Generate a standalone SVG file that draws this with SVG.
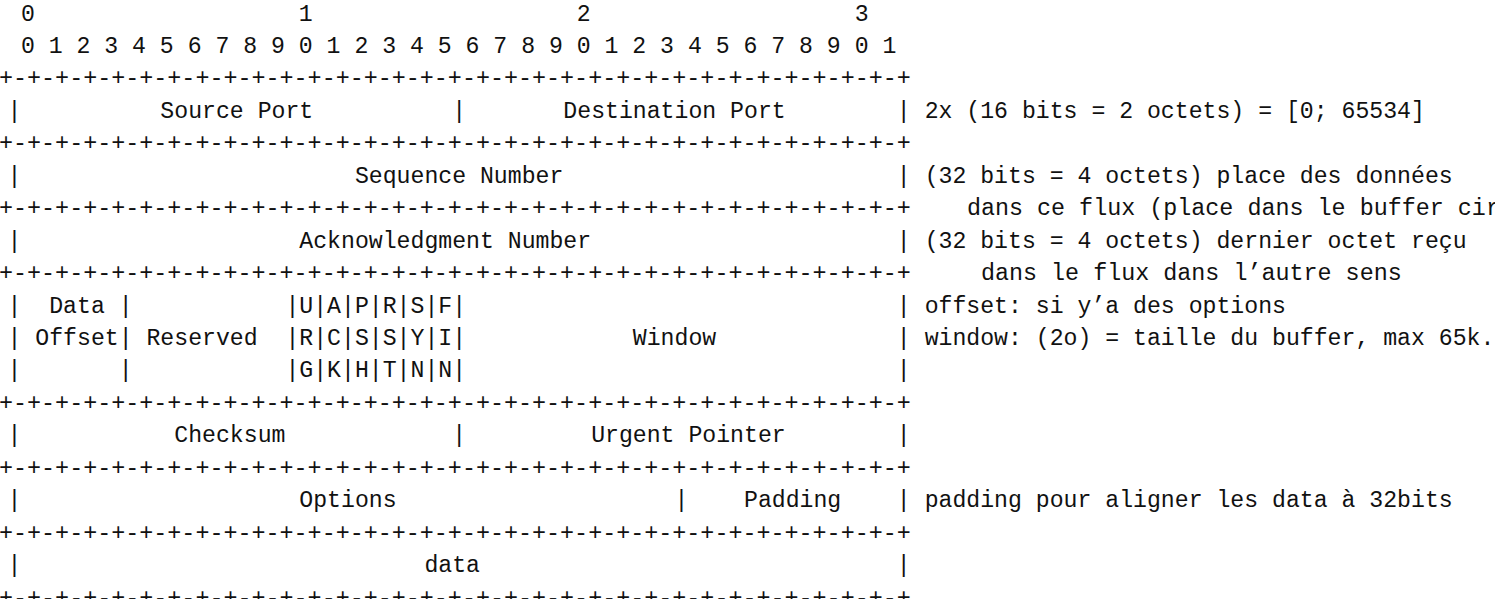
<svg xmlns="http://www.w3.org/2000/svg" width="1495" height="599" viewBox="0 0 1495 599" xml:space="preserve">
<style>
text { font-family: "Liberation Mono", "DejaVu Sans Mono", monospace; fill: #111; white-space: pre; }
.g { font-size: 23.17px; }
.p { font-size: 23.38px; }
</style>
<rect x="0" y="0" width="1495" height="599" fill="#ffffff"/>
<g id="bit-ruler">
<text class="g" x="7" y="20.5"> 0                   1                   2                   3</text>
<text class="g" x="7" y="52.95"> 0 1 2 3 4 5 6 7 8 9 0 1 2 3 4 5 6 7 8 9 0 1 2 3 4 5 6 7 8 9 0 1</text>
</g>
<g id="separators">
<text class="p" x="-1" y="85.4">+-+-+-+-+-+-+-+-+-+-+-+-+-+-+-+-+-+-+-+-+-+-+-+-+-+-+-+-+-+-+-+-+</text>
<text class="p" x="-1" y="150.3">+-+-+-+-+-+-+-+-+-+-+-+-+-+-+-+-+-+-+-+-+-+-+-+-+-+-+-+-+-+-+-+-+</text>
<text class="p" x="-1" y="215.2">+-+-+-+-+-+-+-+-+-+-+-+-+-+-+-+-+-+-+-+-+-+-+-+-+-+-+-+-+-+-+-+-+    dans ce flux (place dans le buffer cir</text>
<text class="p" x="-1" y="280.1">+-+-+-+-+-+-+-+-+-+-+-+-+-+-+-+-+-+-+-+-+-+-+-+-+-+-+-+-+-+-+-+-+     dans le flux dans l’autre sens</text>
<text class="p" x="-1" y="409.9">+-+-+-+-+-+-+-+-+-+-+-+-+-+-+-+-+-+-+-+-+-+-+-+-+-+-+-+-+-+-+-+-+</text>
<text class="p" x="-1" y="474.8">+-+-+-+-+-+-+-+-+-+-+-+-+-+-+-+-+-+-+-+-+-+-+-+-+-+-+-+-+-+-+-+-+</text>
<text class="p" x="-1" y="539.7">+-+-+-+-+-+-+-+-+-+-+-+-+-+-+-+-+-+-+-+-+-+-+-+-+-+-+-+-+-+-+-+-+</text>
<text class="p" x="-1" y="604.6">+-+-+-+-+-+-+-+-+-+-+-+-+-+-+-+-+-+-+-+-+-+-+-+-+-+-+-+-+-+-+-+-+</text>
</g>
<g id="row-ports">
<text class="g" x="7.5" y="117.85">|          Source Port          |       Destination Port        | 2x (16 bits = 2 octets) = [0; 65534]</text>
</g>
<g id="row-sequence">
<text class="g" x="7.5" y="182.75">|                        Sequence Number                        | (32 bits = 4 octets) place des données</text>
</g>
<g id="row-ack">
<text class="g" x="7.5" y="247.65">|                    Acknowledgment Number                      | (32 bits = 4 octets) dernier octet reçu</text>
</g>
<g id="row-flags">
<text class="g" x="7.5" y="312.55">|  Data |           |U|A|P|R|S|F|                               | offset: si y’a des options</text>
<text class="g" x="7.5" y="345">| Offset| Reserved  |R|C|S|S|Y|I|            Window             | window: (2o) = taille du buffer, max 65k.</text>
<text class="g" x="7.5" y="377.45">|       |           |G|K|H|T|N|N|                               |</text>
</g>
<g id="row-checksum">
<text class="g" x="7.5" y="442.35">|           Checksum            |         Urgent Pointer        |</text>
</g>
<g id="row-options">
<text class="g" x="7.5" y="507.25">|                    Options                    |    Padding    | padding pour aligner les data à 32bits</text>
</g>
<g id="row-data">
<text class="g" x="7.5" y="572.15">|                             data                              |</text>
</g>
</svg>
